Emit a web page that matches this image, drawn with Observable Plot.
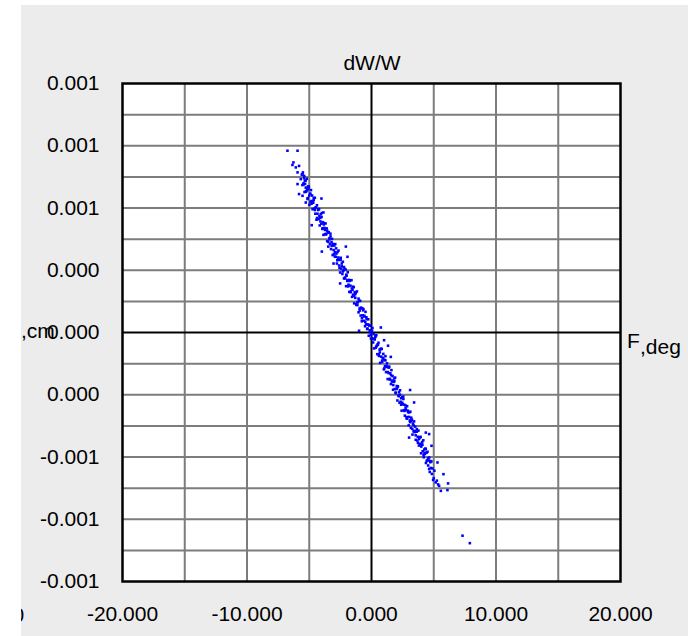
<!DOCTYPE html>
<html>
<head>
<meta charset="utf-8">
<script src="https://cdn.jsdelivr.net/npm/d3@7"></script>
<script src="https://cdn.jsdelivr.net/npm/@observablehq/plot@0.6"></script>
<style>
  html, body { margin: 0; padding: 0; background: #ffffff; }
  #panel { position: absolute; left: 21px; top: 5px; width: 667px; height: 631px; background: #ececec; overflow: hidden; }
  #inner { position: absolute; left: -21px; top: -5px; width: 688px; height: 636px; }
</style>
</head>
<body>
<div id="panel"><div id="inner"></div></div>
<script>
// ---- tick positions and labels ----
const xTicks = [-20, -10, 0, 10, 20];
const xTickLabels = ["-20.000", "-10.000", "0.000", "10.000", "20.000"];
const yTicks = [0.001, 0.00075, 0.0005, 0.00025, 0, -0.00025, -0.0005, -0.00075, -0.001];
const yTickLabels = ["0.001", "0.001", "0.001", "0.000", "0.000", "0.000", "-0.001", "-0.001", "-0.001"];
const xGrid = [-15, -10, -5, 5, 10, 15];
const yGrid = [0.000875, 0.00075, 0.000625, 0.0005, 0.000375, 0.00025, 0.000125,
               -0.000125, -0.00025, -0.000375, -0.0005, -0.000625, -0.00075, -0.000875];

// ---- texts ----
const titleText = "dW/W";
const xLabelMain = "F";
const xLabelSub = ",deg";
const yLabelClip = ",cm";
const clippedGlyph = "0";

// ---- data: F (deg) and dW/W ----
const coreF = [-5.60,-5.55,-5.51,-5.46,-5.42,-5.38,-5.33,-5.29,-5.25,-5.20,-5.16,-5.12,-5.07,-5.03,-4.99,-4.94,-4.90,-4.86,-4.81,-4.77,-4.73,-4.68,-4.64,-4.60,-4.55,-4.51,-4.47,-4.42,-4.38,-4.34,-4.29,-4.25,-4.21,-4.16,-4.12,-4.08,-4.03,-3.99,-3.95,-3.90,-3.86,-3.82,-3.77,-3.73,-3.69,-3.64,-3.60,-3.56,-3.51,-3.47,-3.43,-3.38,-3.34,-3.30,-3.25,-3.21,-3.17,-3.12,-3.08,-3.04,-2.99,-2.95,-2.91,-2.86,-2.82,-2.78,-2.73,-2.69,-2.65,-2.60,-2.56,-2.52,-2.47,-2.43,-2.39,-2.34,-2.30,-2.26,-2.21,-2.17,-2.13,-2.08,-2.04,-2.00,-1.95,-1.91,-1.87,-1.82,-1.78,-1.74,-1.69,-1.65,-1.61,-1.56,-1.52,-1.48,-1.43,-1.39,-1.35,-1.30,-1.26,-1.22,-1.17,-1.13,-1.09,-1.04,-1.00,-0.96,-0.91,-0.87,-0.83,-0.78,-0.74,-0.70,-0.65,-0.61,-0.57,-0.52,-0.48,-0.44,-0.39,-0.35,-0.31,-0.26,-0.22,-0.18,-0.13,-0.09,-0.05,0.00,0.04,0.08,0.13,0.17,0.21,0.26,0.30,0.34,0.39,0.43,0.47,0.52,0.56,0.60,0.65,0.69,0.73,0.78,0.82,0.86,0.91,0.95,0.99,1.04,1.08,1.12,1.17,1.21,1.25,1.30,1.34,1.38,1.43,1.47,1.51,1.56,1.60,1.64,1.69,1.73,1.77,1.82,1.86,1.90,1.95,1.99,2.03,2.08,2.12,2.16,2.21,2.25,2.29,2.34,2.38,2.42,2.47,2.51,2.55,2.60,2.64,2.68,2.73,2.77,2.81,2.86,2.90,2.94,2.99,3.03,3.07,3.12,3.16,3.20,3.25,3.29,3.33,3.38,3.42,3.46,3.51,3.55,3.59,3.64,3.68,3.72,3.77,3.81,3.85,3.90,3.94,3.98,4.03,4.07,4.11,4.16,4.20,4.24,4.29,4.33,4.37,4.42,4.46,4.50,4.55,4.59,4.63,4.68,4.72,4.76,4.81,4.85,4.90];
const coreDW = [6.34e-4,5.92e-4,6.43e-4,5.99e-4,6.20e-4,5.64e-4,5.97e-4,6.10e-4,5.68e-4,6.17e-4,5.71e-4,5.40e-4,5.77e-4,5.85e-4,5.13e-4,5.57e-4,5.25e-4,5.72e-4,5.28e-4,5.50e-4,4.95e-4,5.21e-4,5.32e-4,4.98e-4,5.41e-4,4.77e-4,5.03e-4,4.53e-4,5.11e-4,4.77e-4,4.95e-4,4.55e-4,4.96e-4,4.30e-4,4.60e-4,4.75e-4,4.37e-4,4.80e-4,4.16e-4,4.43e-4,3.92e-4,4.39e-4,4.20e-4,3.95e-4,4.38e-4,3.96e-4,4.18e-4,3.67e-4,4.01e-4,3.45e-4,4.03e-4,3.74e-4,3.55e-4,3.97e-4,3.35e-4,3.63e-4,3.76e-4,3.11e-4,3.55e-4,3.31e-4,3.49e-4,3.05e-4,3.55e-4,3.04e-4,3.17e-4,2.77e-4,3.23e-4,2.93e-4,3.29e-4,2.69e-4,2.92e-4,2.41e-4,3.00e-4,2.57e-4,2.77e-4,2.35e-4,2.84e-4,2.49e-4,2.17e-4,2.56e-4,2.21e-4,2.53e-4,1.86e-4,2.28e-4,2.07e-4,2.42e-4,1.85e-4,2.11e-4,1.63e-4,2.10e-4,1.88e-4,1.65e-4,2.10e-4,1.43e-4,1.72e-4,1.52e-4,1.82e-4,1.17e-4,1.62e-4,1.39e-4,1.59e-4,1.11e-4,1.65e-4,1.10e-4,1.22e-4,0.81e-4,1.28e-4,0.96e-4,1.27e-4,0.68e-4,0.99e-4,0.45e-4,0.97e-4,0.69e-4,0.94e-4,0.47e-4,0.67e-4,0.25e-4,0.83e-4,0.33e-4,0.54e-4,0.14e-4,0.32e-4,0.53e-4,-0.13e-4,0.28e-4,0.02e-4,0.27e-4,-0.24e-4,0.05e-4,-0.23e-4,0.18e-4,-0.26e-4,-0.06e-4,-0.64e-4,-0.28e-4,-0.15e-4,-0.61e-4,-0.11e-4,-0.54e-4,-0.87e-4,-0.49e-4,-0.41e-4,-0.94e-4,-0.69e-4,-1.22e-4,-0.67e-4,-0.97e-4,-0.66e-4,-1.18e-4,-1.04e-4,-0.86e-4,-1.48e-4,-1.10e-4,-1.35e-4,-0.95e-4,-1.59e-4,-1.34e-4,-1.24e-4,-1.87e-4,-1.39e-4,-1.63e-4,-1.37e-4,-1.89e-4,-1.64e-4,-2.07e-4,-1.51e-4,-1.97e-4,-1.75e-4,-2.30e-4,-1.98e-4,-1.85e-4,-2.27e-4,-1.81e-4,-2.44e-4,-2.27e-4,-2.15e-4,-2.73e-4,-2.16e-4,-2.53e-4,-2.40e-4,-2.82e-4,-2.32e-4,-2.78e-4,-2.64e-4,-3.14e-4,-2.60e-4,-2.88e-4,-2.57e-4,-3.12e-4,-2.90e-4,-3.34e-4,-2.93e-4,-3.11e-4,-3.40e-4,-2.96e-4,-3.40e-4,-3.20e-4,-3.73e-4,-3.21e-4,-3.53e-4,-3.18e-4,-3.83e-4,-3.56e-4,-3.50e-4,-4.10e-4,-3.66e-4,-3.97e-4,-3.57e-4,-4.00e-4,-3.78e-4,-4.31e-4,-3.98e-4,-3.88e-4,-4.34e-4,-4.19e-4,-3.94e-4,-4.54e-4,-4.21e-4,-4.47e-4,-4.19e-4,-4.85e-4,-4.50e-4,-4.40e-4,-4.77e-4,-4.33e-4,-5.01e-4,-4.70e-4,-4.88e-4,-4.66e-4,-5.24e-4,-4.83e-4,-5.14e-4,-4.79e-4,-5.34e-4,-5.14e-4,-5.02e-4,-5.60e-4,-5.21e-4,-5.44e-4,-5.18e-4,-5.68e-4,-5.46e-4];

const denseF = [-5.45,-5.36,-5.27,-5.18,-5.09,-5.00,-4.91,-4.82,-4.73,-4.64,-4.55,-4.46,-4.37,-4.28,-4.19,-4.10,-4.01,-3.92,-3.83,-3.74,-3.65,-3.56,-3.47,-3.38,-3.29,-3.20,-3.11,-3.02,-2.93,-2.84,-2.75,-2.66,-2.57,-2.48,-2.39,-2.30,-2.21,-2.12,-2.03,-1.94,-1.85,-1.76,-1.67,-1.58,-1.49,-1.40,-1.31,-1.22,-1.13,-1.04,-0.95,-0.86,-0.77,-0.68,-0.59,-0.50,-0.41,-0.32,-0.23,-0.14,-0.05,0.04,0.13,0.22,0.31,0.40,0.49,0.58,0.67,0.76,0.85,0.94,1.03,1.12,1.21,1.30,1.39,1.48,1.57,1.66,1.75,1.84,1.93,2.02,2.11,2.20,2.29,2.38,2.47,2.56,2.65,2.74,2.83,2.92,3.01,3.10,3.19,3.28,3.37,3.46,3.55,3.64,3.73,3.82,3.91,4.00,4.09,4.18,4.27,4.36,4.45,4.54,4.63,4.72];
const denseDW = [5.95e-4,6.10e-4,5.65e-4,5.80e-4,5.87e-4,5.50e-4,5.57e-4,5.17e-4,5.25e-4,5.40e-4,4.92e-4,5.03e-4,4.60e-4,4.92e-4,4.67e-4,4.46e-4,4.64e-4,4.19e-4,4.34e-4,4.12e-4,3.94e-4,4.09e-4,3.64e-4,3.79e-4,3.86e-4,3.48e-4,3.55e-4,3.15e-4,3.23e-4,3.38e-4,2.90e-4,3.01e-4,2.59e-4,2.91e-4,2.66e-4,2.45e-4,2.63e-4,2.17e-4,2.32e-4,2.10e-4,1.92e-4,2.07e-4,1.62e-4,1.77e-4,1.84e-4,1.47e-4,1.54e-4,1.14e-4,1.22e-4,1.36e-4,0.88e-4,0.99e-4,0.57e-4,0.89e-4,0.64e-4,0.43e-4,0.61e-4,0.16e-4,0.31e-4,0.09e-4,-0.09e-4,0.06e-4,-0.40e-4,-0.25e-4,-0.18e-4,-0.55e-4,-0.48e-4,-0.88e-4,-0.80e-4,-0.65e-4,-1.13e-4,-1.02e-4,-1.44e-4,-1.12e-4,-1.38e-4,-1.59e-4,-1.41e-4,-1.86e-4,-1.71e-4,-1.93e-4,-2.11e-4,-1.96e-4,-2.41e-4,-2.26e-4,-2.19e-4,-2.56e-4,-2.50e-4,-2.90e-4,-2.82e-4,-2.67e-4,-3.15e-4,-3.04e-4,-3.46e-4,-3.14e-4,-3.39e-4,-3.60e-4,-3.42e-4,-3.87e-4,-3.72e-4,-3.95e-4,-4.13e-4,-3.98e-4,-4.43e-4,-4.28e-4,-4.21e-4,-4.58e-4,-4.51e-4,-4.91e-4,-4.83e-4,-4.68e-4,-5.16e-4,-5.06e-4,-5.48e-4,-5.16e-4];

const upperTailF = [-6.75,-5.94,-6.27,-6.35,-6.08,-5.82,-5.94,-5.54,-5.68,-5.41,-5.94,-5.82,-5.54,-5.28,-5.28,-5.14,-4.02];
const upperTailDW = [7.30e-4,7.30e-4,6.83e-4,6.73e-4,6.63e-4,6.69e-4,6.43e-4,6.36e-4,6.16e-4,6.29e-4,5.96e-4,5.56e-4,5.49e-4,5.82e-4,5.22e-4,5.36e-4,5.38e-4];

const strayF = [-3.86,-4.80,-3.99,-3.05,-2.06,-1.93,-2.52,-1.00,0.75,1.01,1.33];
const strayDW = [4.82e-4,4.31e-4,3.25e-4,2.77e-4,3.45e-4,3.04e-4,1.97e-4,0.07e-4,0.20e-4,-0.31e-4,-0.53e-4];

const lowerTailF = [1.55,3.10,3.42,3.02,4.36,4.63,4.82,5.30,5.78,6.15,5.57,6.10,5.16,5.43,7.31,7.90,5.00,5.25,5.35,5.05,4.95];
const lowerTailDW = [-0.98e-4,-2.31e-4,-2.81e-4,-4.22e-4,-4.02e-4,-4.08e-4,-4.55e-4,-5.22e-4,-5.69e-4,-6.06e-4,-6.36e-4,-6.33e-4,-6.02e-4,-6.16e-4,-8.16e-4,-8.46e-4,-5.85e-4,-5.95e-4,-6.10e-4,-5.55e-4,-5.92e-4];

// ---- build table ----
const groups = [[coreF, coreDW], [denseF, denseDW], [upperTailF, upperTailDW], [strayF, strayDW], [lowerTailF, lowerTailDW]];
const points = [];
for (const [fs, ws] of groups) fs.forEach((f, i) => points.push({f, dw: ws[i]}));

const xLabelMap = new Map(xTicks.map((t, i) => [t, xTickLabels[i]]));
const yLabelMap = new Map(yTicks.map((t, i) => [t, yTickLabels[i]]));

const FONT = "'Liberation Sans', Arial, sans-serif";

const chart = Plot.plot({
  width: 688,
  height: 636,
  marginLeft: 122,
  marginRight: 68,
  marginTop: 83,
  marginBottom: 55,
  style: {background: "none", fontFamily: FONT, fontSize: "21px", color: "#000", overflow: "visible"},
  x: {domain: [-20, 20], ticks: xTicks, tickFormat: d => xLabelMap.get(d), tickSize: 0, tickPadding: 25, label: null},
  y: {domain: [-0.001, 0.001], ticks: yTicks, tickFormat: d => yLabelMap.get(d), tickSize: 0, tickPadding: 23, label: null},
  marks: [
    Plot.frame({fill: "white"}),
    Plot.ruleX(xGrid, {stroke: "#7c7c7c", strokeWidth: 2}),
    Plot.ruleY(yGrid, {stroke: "#7c7c7c", strokeWidth: 2}),
    Plot.ruleX([0], {stroke: "#000", strokeWidth: 2}),
    Plot.ruleY([0], {stroke: "#000", strokeWidth: 2}),
    Plot.dot(points, {x: "f", y: "dw", r: 1.45, symbol: "square", fill: "#0000ff", stroke: "none"}),
    Plot.frame({stroke: "#000", strokeWidth: 2.5})
  ]
});

document.getElementById("inner").appendChild(chart);

const svg = d3.select(chart);
function addText(str, x, y, anchor) {
  svg.append("text")
    .attr("x", x).attr("y", y)
    .attr("text-anchor", anchor)
    .attr("font-family", FONT)
    .attr("font-size", 21)
    .attr("fill", "#000")
    .text(str);
}
addText(titleText, 372, 70, "middle");
addText(xLabelMain, 627, 348, "start");
addText(xLabelSub, 640, 354, "start");
addText(yLabelClip, 21, 338, "start");
addText(clippedGlyph, 12.5, 622, "start");
</script>
</body>
</html>
